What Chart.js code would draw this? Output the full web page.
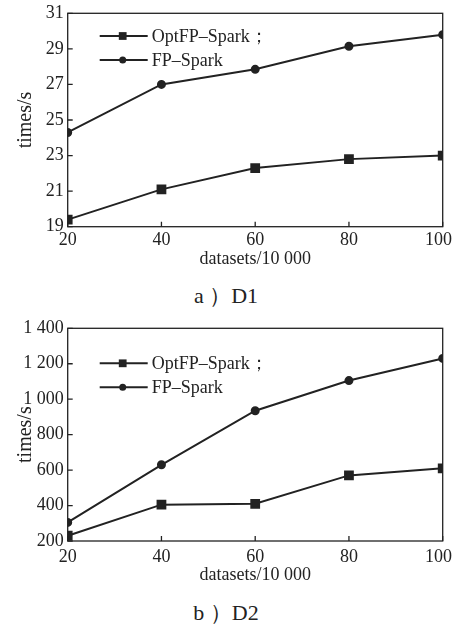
<!DOCTYPE html>
<html>
<head>
<meta charset="utf-8">
<script src="https://cdn.jsdelivr.net/npm/chart.js@4.4.0/dist/chart.umd.min.js"></script>
<style>
  body { margin: 0; background: #fff; width: 452px; height: 626px; position: relative; overflow: hidden; font-family: "Liberation Serif", "DejaVu Serif", serif; }
  .box { position: absolute; left: 0; width: 452px; }
  .cap { position: absolute; left: 0; width: 452px; text-align: center; font-size: 22px; color: #222; }
</style>
</head>
<body>
<div class="box" style="top:0;height:272px"><canvas id="d1Chart"></canvas></div>
<div class="cap" style="top:281px">a ）D1</div>
<div class="box" style="top:310px;height:278px"><canvas id="d2Chart"></canvas></div>
<div class="cap" style="top:598px">b ）D2</div>
<script>
// datasets / 10 000
const sizes = [20, 40, 60, 80, 100];
// run time in seconds
const d1Opt = [19.4, 21.1, 22.3, 22.8, 23.0];
const d1Fp = [24.3, 27.0, 27.85, 29.15, 29.8];
const d2Opt = [230, 405, 410, 570, 610];
const d2Fp = [305, 630, 935, 1105, 1230];
const seriesNames = ["OptFP–Spark；", "FP–Spark"];
const xTitle = "datasets/10 000";
const yTitle = "times/s";

const serif = '"Liberation Serif", "DejaVu Serif", serif';
Chart.defaults.font.family = serif;
Chart.defaults.color = "#222";

function pts(ys) {
  return sizes.map(function (x, i) { return { x: x, y: ys[i] }; });
}

// box around the plot, inward ticks, x tick labels kept inside the page, legend inside the plot
const framePlugin = {
  id: "frame",
  afterDatasetsDraw: function (chart, args, opts) {
    const ctx = chart.ctx;
    const a = chart.chartArea;
    const sx = chart.scales.x;
    const sy = chart.scales.y;
    ctx.save();
    ctx.strokeStyle = "#222";
    ctx.lineWidth = 1.3;
    ctx.strokeRect(a.left, a.top, a.right - a.left, a.bottom - a.top);
    ctx.beginPath();
    sx.ticks.forEach(function (t) {
      const px = sx.getPixelForValue(t.value);
      ctx.moveTo(px, a.bottom);
      ctx.lineTo(px, a.bottom - 5);
    });
    sy.ticks.forEach(function (t) {
      const py = sy.getPixelForValue(t.value);
      ctx.moveTo(a.left, py);
      ctx.lineTo(a.left + 5, py);
    });
    ctx.stroke();

    ctx.fillStyle = "#222";
    ctx.font = "18px " + serif;
    ctx.textBaseline = "middle";
    ctx.textAlign = "center";
    sx.ticks.forEach(function (t) {
      const label = String(t.value);
      const w = ctx.measureText(label).width;
      const px = Math.min(sx.getPixelForValue(t.value), chart.width - w / 2);
      ctx.fillText(label, px, a.bottom + opts.xLabel);
    });

    chart.data.datasets.forEach(function (ds, i) {
      const y = a.top + opts.top + i * 24;
      const x0 = a.left + 32;
      ctx.strokeStyle = "#222";
      ctx.lineWidth = ds.borderWidth;
      ctx.beginPath();
      ctx.moveTo(x0, y);
      ctx.lineTo(x0 + 48, y);
      ctx.stroke();
      Chart.helpers.drawPoint(ctx, { pointStyle: ds.pointStyle, radius: ds.pointRadius, rotation: 0, borderWidth: 0 }, x0 + 23, y);
      ctx.textAlign = "left";
      ctx.fillText(ds.label, x0 + 52, y + 1);
    });
    ctx.restore();
  }
};

function makeChart(id, optData, fpData, yMin, yMax, yStep, lay, yLabel) {
  const ctx = document.getElementById(id).getContext("2d");
  return new Chart(ctx, {
    type: "line",
    data: {
      datasets: [
        {
          label: seriesNames[0],
          data: pts(optData),
          borderColor: "#222",
          backgroundColor: "#222",
          borderWidth: 2,
          pointStyle: "rect",
          pointRadius: 5.5,
          clip: 0
        },
        {
          label: seriesNames[1],
          data: pts(fpData),
          borderColor: "#222",
          backgroundColor: "#222",
          borderWidth: 2,
          pointStyle: "circle",
          pointRadius: 3.5,
          clip: 0
        }
      ]
    },
    options: {
      responsive: true,
      maintainAspectRatio: false,
      animation: false,
      layout: { padding: { top: lay.padTop, right: 9.3, left: 0, bottom: 0 } },
      plugins: {
        legend: { display: false },
        tooltip: { enabled: false },
        frame: { top: lay.top, xLabel: lay.xLabel }
      },
      scales: {
        x: {
          type: "linear",
          min: 20,
          max: 100,
          grid: { display: false, drawTicks: false },
          border: { display: false },
          ticks: { stepSize: 20, display: false },
          title: { display: true, text: xTitle, font: { size: 18 }, color: "#222", padding: { top: 0, bottom: 2 } },
          afterFit: function (s) { s.height = lay.xh; s.paddingLeft = 0; s.paddingRight = 0; }
        },
        y: {
          min: yMin,
          max: yMax,
          grid: { display: false, drawTicks: false },
          border: { display: false },
          ticks: { stepSize: yStep, padding: 4, font: { size: 18 }, color: "#222", callback: yLabel },
          title: { display: true, text: yTitle, font: { size: 20 }, color: "#222", padding: { top: 14, bottom: 0 } },
          afterFit: function (s) { s.width = 67.7; s.paddingTop = 0; s.paddingBottom = 0; }
        }
      }
    },
    plugins: [framePlugin]
  });
}

function spaced(v) {
  const s = String(v);
  return s.length > 3 ? s.slice(0, s.length - 3) + " " + s.slice(-3) : s;
}

makeChart("d1Chart", d1Opt, d1Fp, 19, 31, 2, { padTop: 13.3, top: 22.7, xh: 45.3, xLabel: 13.5 }, function (v) { return v; });
makeChart("d2Chart", d2Opt, d2Fp, 200, 1400, 200, { padTop: 18.3, top: 35, xh: 47, xLabel: 16 }, spaced);
</script>
</body>
</html>
